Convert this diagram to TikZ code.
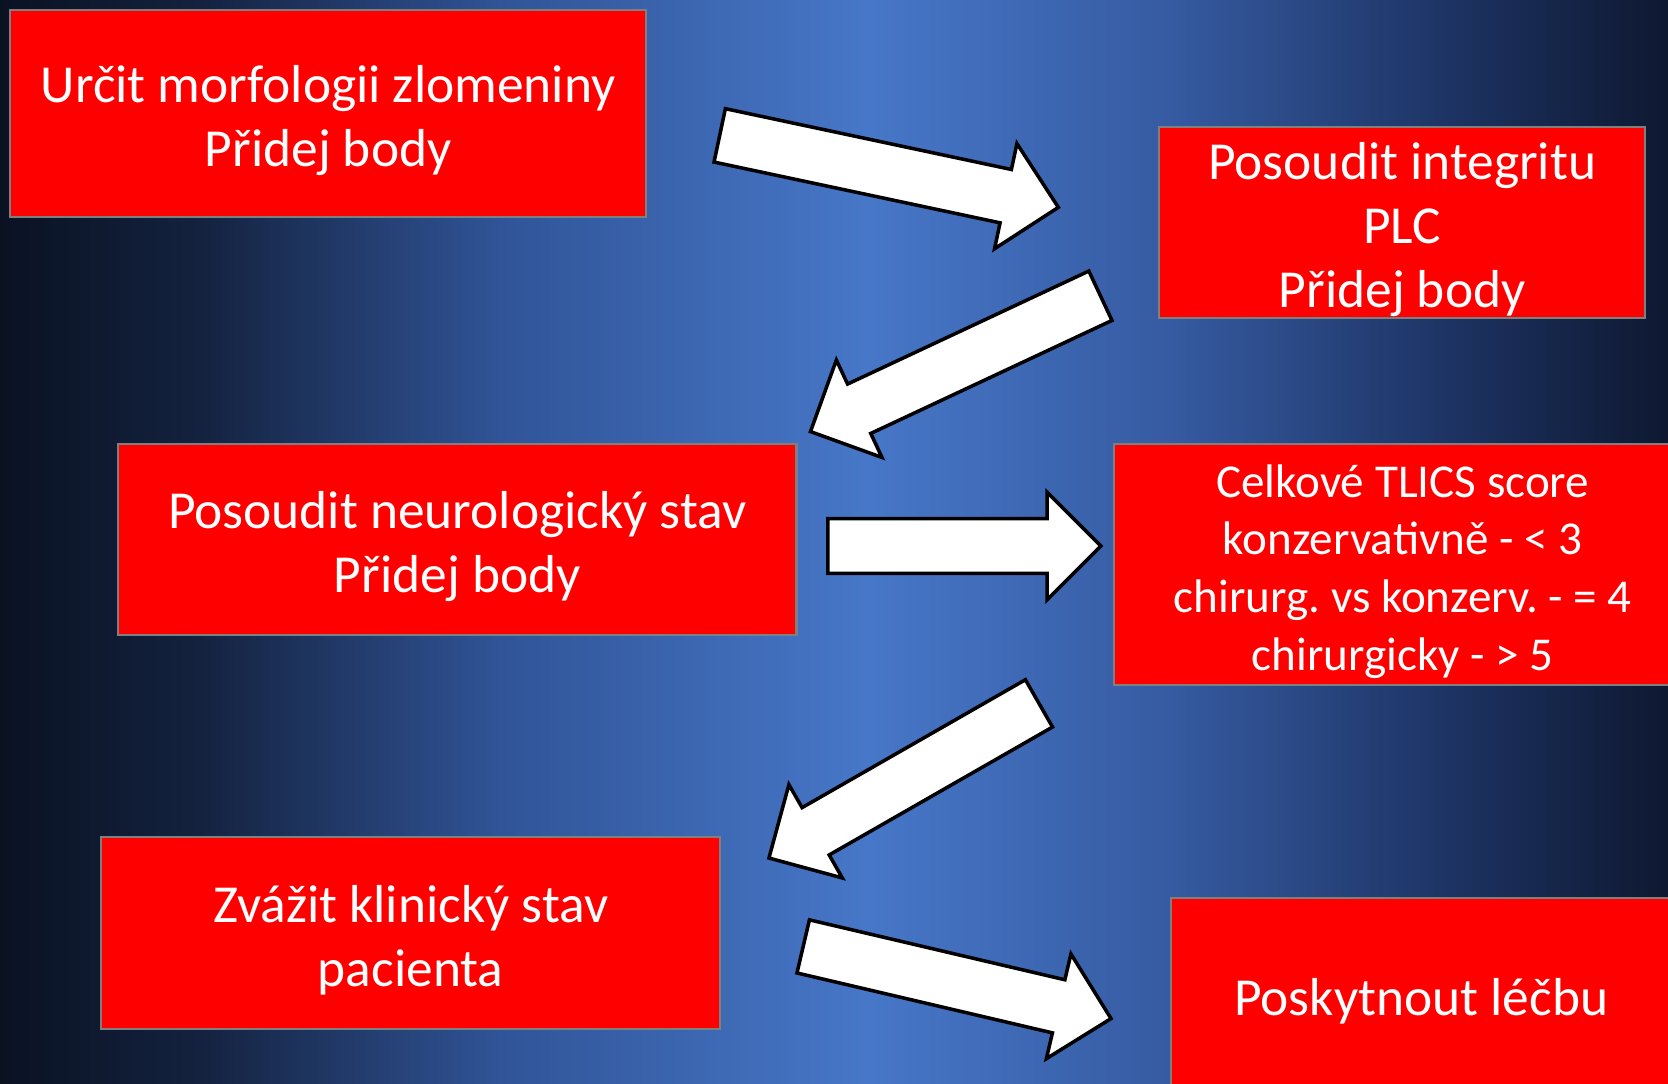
\documentclass[tikz,border=0pt]{standalone}
\usepackage{fontspec}
\setmainfont{Carlito}
\frenchspacing
\usetikzlibrary{shapes.arrows}

\definecolor{boxred}{RGB}{255,0,0}
\definecolor{boxedge}{RGB}{127,127,127}
\definecolor{bgA}{HTML}{0A1222}
\definecolor{bgB}{HTML}{14223F}
\definecolor{bgC}{HTML}{305497}
\definecolor{bgD}{HTML}{4777C8}
\definecolor{bgE}{HTML}{365BA2}
\definecolor{bgF}{HTML}{1D3363}
\definecolor{bgG}{HTML}{0E1830}
\pgfdeclarehorizontalshading{slidebg}{100bp}{color(0bp)=(bgA); color(25bp)=(bgA);
  color(31bp)=(bgB); color(40bp)=(bgC); color(51bp)=(bgD); color(60bp)=(bgE);
  color(68.5bp)=(bgF); color(75bp)=(bgG); color(100bp)=(bgG)}

\begin{document}
\begin{tikzpicture}[x=0.01cm, y=-0.01cm,
  box/.style={draw=boxedge, line width=0.6pt, fill=boxred, anchor=north west, inner sep=0pt},
  boxtext/.style={text=white, align=center, yshift=-0.07cm, font=\fontsize{15.2}{18.2}\selectfont},
  bigarrow/.style={single arrow, draw=black, line width=1pt, fill=white, inner sep=0.255cm,
    single arrow head extend=0.265cm, anchor=tail}]
  \useasboundingbox (0,0) rectangle (1668,1084);
  \clip (0,0) rectangle (1668,1084);
  \shade[shading=slidebg] (0,0) rectangle (1668,1084);

  \node[box, minimum width=6.36cm, minimum height=2.07cm,
    label={[boxtext]center:Určit morfologii zlomeniny\\Přidej body}] (morf) at (9,9) {};
  \node[box, minimum width=4.86cm, minimum height=1.915cm,
    label={[boxtext]center:Posoudit integritu\\PLC\\Přidej body}] (plc) at (1158,125.5) {};
  \node[box, minimum width=6.78cm, minimum height=1.915cm,
    label={[boxtext]center:Posoudit neurologický stav\\Přidej body}] (neuro) at (117,442.5) {};
  \node[box, minimum width=5.77cm, minimum height=2.415cm,
    label={[boxtext, font=\fontsize{13.4}{16.4}\selectfont]center:Celkové TLICS score\\konzervativně - < 3\\chirurg. vs konzerv. - = 4\\chirurgicky - > 5}]
    (tlics) at (1113,442.5) {};
  \node[box, minimum width=6.19cm, minimum height=1.92cm,
    label={[boxtext]center:Zvážit klinický stav\\pacienta}] (klin) at (100,836) {};
  \node[box, minimum width=5cm, minimum height=1.92cm,
    label={[boxtext]center:Poskytnout léčbu}] (lecba) at (1170,897) {};

  \node[bigarrow, minimum height=3.46cm, rotate=-12] (arr1) at (718,135) {};
  \node[bigarrow, minimum height=3.2cm, rotate=205.1] (arr2) at (1102,295) {};
  \node[bigarrow, minimum height=2.73cm] (arr3) at (826,546) {};
  \node[bigarrow, minimum height=3.11cm, rotate=209.8] (arr4) at (1040.5,702.5) {};
  \node[bigarrow, minimum height=3.16cm, rotate=-13.2] (arr5) at (801.5,946) {};
\end{tikzpicture}
\end{document}
